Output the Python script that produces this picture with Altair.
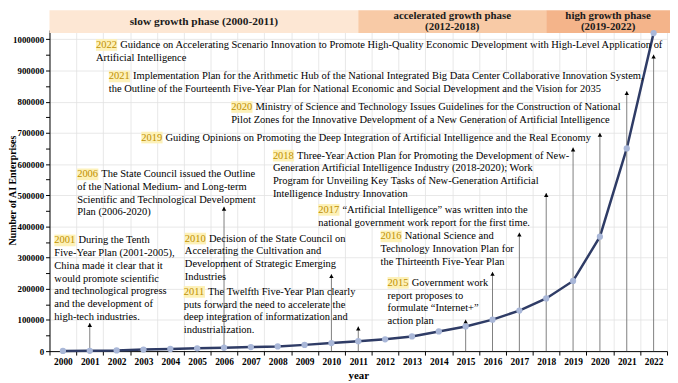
import altair as alt
import pandas as pd

FONT = "Liberation Serif"

# ---- main series ----
years = list(range(2000, 2023))
enterprises = [500, 1000, 2000, 5000, 7000, 9000, 11000, 13000, 15000, 20000,
               26000, 32000, 38000, 47000, 63000, 79000, 101000, 130000,
               169000, 225000, 367000, 650000, 1020000]

# ---- arrows from the axis up to each policy note ----
arrow_years = [2001, 2006, 2010, 2011, 2015, 2016, 2017, 2018, 2019, 2020, 2021, 2022]
arrow_tops = [90000, 463000, 247000, 79000, 101000, 254000, 380000, 507000,
              653000, 700000, 834000, 951000]

# ---- phase banner ----
phase_names = ["slow growth phase (2000-2011)",
               "accelerated growth phase\n(2012-2018)",
               "high growth phase\n(2019-2022)"]
phase_start = [1999.5, 2011, 2018]
phase_end = [2011, 2018, 2022.61]
phase_colors = ["#fde7d4", "#f8caa6", "#f4b48a"]

# ---- policy notes: year label, anchor (x in years, y in enterprises), lines ----
ann_labels = ["2022", "2021", "2020", "2019", "2018", "2017", "2016", "2015",
              "2010", "2011", "2006", "2001"]
ann_x = [2001.23, 2001.71, 2006.27, 2002.92, 2007.82, 2009.51, 2011.83, 2012.09,
         2004.54, 2004.50, 2000.53, 1999.68]
ann_y = [982000, 881000, 783000, 685000, 627000, 453000, 368000, 219000,
         361000, 190000, 567000, 355000]
ann_lines = [
    ["Guidance on Accelerating Scenario Innovation to Promote High-Quality Economic Development with High-Level Application of",
     "Artificial Intelligence"],
    ["Implementation Plan for the Arithmetic Hub of the National Integrated Big Data Center Collaborative Innovation System,",
     "the Outline of the Fourteenth Five-Year Plan for National Economic and Social Development and the Vision for 2035"],
    ["Ministry of Science and Technology Issues Guidelines for the Construction of National",
     "Pilot Zones for the Innovative Development of a New Generation of Artificial Intelligence"],
    ["Guiding Opinions on Promoting the Deep Integration of Artificial Intelligence and the Real Economy"],
    ["Three-Year Action Plan for Promoting the Development of New-",
     "Generation Artificial Intelligence Industry (2018-2020); Work",
     "Program for Unveiling Key Tasks of New-Generation Artificial",
     "Intelligence Industry Innovation"],
    ["\u201cArtificial Intelligence\u201d was written into the",
     "national government work report for the first time."],
    ["National Science and",
     "Technology Innovation Plan for",
     "the Thirteenth Five-Year Plan"],
    ["Government work",
     "report proposes to",
     "formulate \u201cInternet+\u201d",
     "action plan"],
    ["Decision of the State Council on",
     "Accelerating the Cultivation and",
     "Development of Strategic Emerging",
     "Industries"],
    ["The Twelfth Five-Year Plan clearly",
     "puts forward the need to accelerate the",
     "deep integration of informatization and",
     "industrialization."],
    ["The State Council issued the Outline",
     "of the National Medium- and Long-term",
     "Scientific and Technological Development",
     "Plan (2006-2020)"],
    ["During the Tenth",
     "Five-Year Plan (2001-2005),",
     "China made it clear that it",
     "would promote scientific",
     "and technological progress",
     "and the development of",
     "high-tech industries."],
]
LINE_STEP = 40800  # line spacing expressed in y-units

y_ticks = list(range(0, 1000001, 50000))
x_ticks = [y - 0.5 for y in years] + [2022.5]

# ---- tables ----
line_df = pd.DataFrame({"year": years, "n": enterprises})
arrow_df = pd.DataFrame({"year": arrow_years, "top": arrow_tops,
                         "base": [0] * len(arrow_years)})
phase_df = pd.DataFrame({"name": phase_names, "start": phase_start, "end": phase_end,
                         "color": phase_colors})
phase_df["mid"] = (phase_df["start"] + phase_df["end"]) / 2
phase_df["two"] = phase_df["name"].str.contains("\n")

first_rows, cont_rows = [], []
for lab, x, y, lines in zip(ann_labels, ann_x, ann_y, ann_lines):
    first_rows.append({"label": lab, "x": x, "y": y, "text": lines[0]})
    for i, t in enumerate(lines[1:], start=1):
        cont_rows.append({"x": x, "y": y - i * LINE_STEP, "text": t})
first_df = pd.DataFrame(first_rows)
cont_df = pd.DataFrame(cont_rows)

xs = alt.Scale(domain=[1999.5, 2022.5], nice=False, zero=False)
ys = alt.Scale(domain=[0, 1030000], nice=False)

x_axis = alt.Axis(values=x_ticks, title="year",
                  labelExpr="datum.value < 2022 ? format(datum.value + 0.5, 'd') : ''",
                  labelOffset=13.6, labelFlush=False, labelOverlap=False, tickSize=4,
                  labelFontSize=9.5, titleFontSize=11, labelPadding=2, titlePadding=3,
                  grid=True, gridColor="#e2e2e2", gridWidth=0.8)
y_axis = alt.Axis(values=y_ticks, title="Number of AI Enterprises",
                  labelExpr="datum.value % 100000 === 0 ? '' + datum.value : ''",
                  labelFontSize=9, titleFontSize=10, tickSize=4, labelPadding=2,
                  grid=True, gridColor="#e2e2e2", gridWidth=0.8,
                  gridOpacity=alt.condition("datum.value % 100000 === 0", alt.value(1), alt.value(0)),
                  titleAngle=270, titleX=-42, titleY=162, titleBaseline="top", titleAlign="center")


def X(field):
    return alt.X(field, scale=xs, axis=x_axis, title="year")


def Y(field):
    return alt.Y(field, scale=ys, axis=y_axis, title="Number of AI Enterprises")


banner = alt.Chart(phase_df).mark_rect().encode(
    x=X("start:Q"), x2="end:Q",
    y=alt.value(-20), y2=alt.value(3),
    color=alt.Color("color:N", scale=None),
)
banner_one = alt.Chart(phase_df).transform_filter("!datum.two").mark_text(
    font=FONT, fontSize=11.5, fontWeight="bold",
    align="center", baseline="middle", color="#1a1a1a",
).encode(x=X("mid:Q"), y=alt.value(-8.5), text="name:N")
banner_two = alt.Chart(phase_df).transform_filter("datum.two").mark_text(
    font=FONT, fontSize=11, fontWeight="bold", lineBreak="\n", lineHeight=11.5,
    align="center", baseline="middle", color="#1a1a1a",
).encode(x=X("mid:Q"), y=alt.value(-14), text="name:N")

arrows = alt.Chart(arrow_df).mark_rule(color="#7f7f7f", strokeWidth=1).encode(
    x=X("year:Q"), y=Y("base:Q"), y2="top:Q",
)
heads = alt.Chart(arrow_df).mark_point(shape="triangle-up", filled=True, size=20,
                                       color="black", opacity=1, yOffset=2).encode(
    x=X("year:Q"), y=Y("top:Q"))

line = alt.Chart(line_df).mark_line(color="#2f3c66", strokeWidth=2.5).encode(
    x=X("year:Q"), y=Y("n:Q"),
)
pts = alt.Chart(line_df).mark_circle(size=40, color="#a9b7d8", opacity=1).encode(
    x=X("year:Q"), y=Y("n:Q"))

highlight = alt.Chart(first_df).mark_point(
    shape="M-1,-0.55H1V0.55H-1Z", filled=True, size=462, color="#fdf1b8",
    opacity=1, xOffset=10.75,
).encode(x=X("x:Q"), y=Y("y:Q"))

year_txt = alt.Chart(first_df).mark_text(
    font=FONT, fontSize=10.6, align="left", baseline="middle", color="#bf9000"
).encode(x=X("x:Q"), y=Y("y:Q"), text="label:N")
first_txt = alt.Chart(first_df).mark_text(
    font=FONT, fontSize=10.6, align="left", baseline="middle", color="black", dx=24.5
).encode(x=X("x:Q"), y=Y("y:Q"), text="text:N")
cont_txt = alt.Chart(cont_df).mark_text(
    font=FONT, fontSize=10.6, align="left", baseline="middle", color="black"
).encode(x=X("x:Q"), y=Y("y:Q"), text="text:N")

chart = alt.layer(
    line, banner, banner_one, banner_two, arrows, heads, pts, highlight,
    year_txt, first_txt, cont_txt
).properties(
    width=625, height=325,
    autosize=alt.AutoSizeParams(type="none"),
    padding={"left": 42, "top": 20, "right": 3, "bottom": 30},
).configure_axis(
    labelFont=FONT, titleFont=FONT, labelFontWeight="bold", titleFontWeight="bold",
    labelColor="black", titleColor="black", domainColor="black", tickColor="black",
).configure_view(stroke=None)

chart.save("out.html", embed_options={"renderer": "svg", "actions": False})
